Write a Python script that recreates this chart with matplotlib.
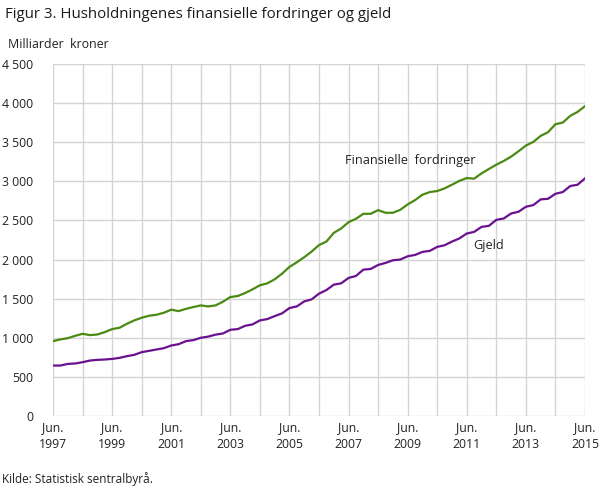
import matplotlib
matplotlib.use("Agg")
import matplotlib.pyplot as plt
import numpy as np

plt.rcParams['font.family'] = ['Open Sans', 'DejaVu Sans']

# Quarterly data, Jun 1997 .. Jun 2015 (billion NOK)
fordringer = [957, 979, 995,
              1025, 1051, 1034, 1042,
              1072, 1111, 1128, 1179,
              1222, 1256, 1282, 1294,
              1320, 1359, 1341, 1370,
              1393, 1414, 1401, 1414,
              1461, 1521, 1534, 1572,
              1619, 1671, 1696, 1747,
              1820, 1906, 1965, 2030,
              2102, 2185, 2230, 2341,
              2397, 2478, 2521, 2585,
              2585, 2632, 2598, 2598,
              2636, 2705, 2760, 2829,
              2863, 2876, 2910, 2957,
              3006, 3042, 3034, 3102,
              3158, 3213, 3260, 3316,
              3384, 3457, 3504, 3581,
              3628, 3730, 3752, 3837,
              3888, 3961]
gjeld = [645, 645, 666,
         671, 688, 709, 718,
         722, 730, 743, 765,
         782, 816, 833, 850,
         867, 901, 918, 957,
         970, 1000, 1015, 1040,
         1055, 1102, 1111, 1153,
         1171, 1222, 1239, 1277,
         1312, 1380, 1401, 1465,
         1491, 1564, 1610, 1679,
         1696, 1765, 1790, 1871,
         1880, 1931, 1957, 1991,
         2000, 2042, 2059, 2098,
         2111, 2162, 2183, 2230,
         2270, 2333, 2354, 2418,
         2431, 2508, 2525, 2589,
         2611, 2675, 2696, 2769,
         2777, 2841, 2863, 2940,
         2957, 3038]
tick_years = [1997, 1999, 2001, 2003, 2005, 2007, 2009, 2011, 2013, 2015]
y_ticks = [0, 500, 1000, 1500, 2000, 2500, 3000, 3500, 4000, 4500]

t = 1997.5 + np.arange(len(fordringer)) * 0.25

fig = plt.figure(figsize=(6.08, 4.87), dpi=100)
ax = fig.add_axes([53/608, 1 - 416/487, (585-53)/608, (416-64)/487])

green = '#4a8a12'
purple = '#6a1190'
ax.plot(t, fordringer, color=green, lw=1.6, solid_joinstyle='round')
ax.plot(t, gjeld, color=purple, lw=1.6, solid_joinstyle='round')

ax.set_xlim(1997.5, 2015.5)
ax.set_ylim(0, 4500)
ax.set_yticks(y_ticks)
ax.set_yticklabels([f"{v:,}".replace(",", " ") for v in y_ticks])
ax.set_xticks([y + 0.5 for y in tick_years])
ax.set_xticklabels([f"Jun.\n{y}" for y in tick_years], linespacing=1.35)
ax.set_xticks([y + 0.5 for y in range(1997, 2016)], minor=True)

gc = '#d4d4d4'
ax.grid(True, which='both', axis='x', color=gc, lw=1.0)
ax.grid(True, which='major', axis='y', color=gc, lw=1.0)
ax.set_axisbelow(True)
for s in ax.spines.values():
    s.set_visible(False)
ax.tick_params(axis='both', which='both', length=0, labelsize=8.8, colors='#222222')
ax.tick_params(axis='y', pad=14)
ax.tick_params(axis='x', pad=4)
for lbl in ax.get_yticklabels():
    lbl.set_horizontalalignment('right')

ax.text(2007.38, 3270, "Finansielle  fordringer", fontsize=9.2, color='#222222',
        ha='left', va='center')
ax.text(2011.71, 2186, "Gjeld", fontsize=9.2, color='#222222', ha='left', va='center')

fig.text(5/608, 1 - 14/487, "Figur 3. Husholdningenes finansielle fordringer og gjeld",
         fontsize=10.8, color='#1a1a1a', ha='left', va='center')
fig.text(8/608, 1 - 44/487, "Milliarder  kroner", fontsize=8.9, color='#222222',
         ha='left', va='center')
fig.text(2/608, 1 - 479/487, "Kilde: Statistisk sentralbyrå.", fontsize=8.5,
         color='#222222', ha='left', va='center')

fig.savefig("out.png", dpi=100, facecolor='white')
